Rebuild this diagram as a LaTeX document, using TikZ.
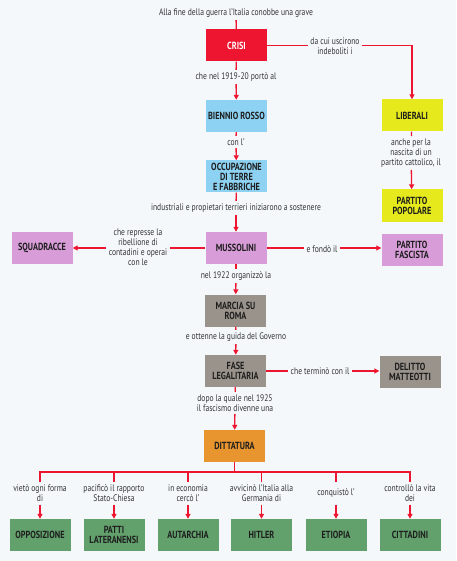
\documentclass[tikz,border=0pt]{standalone}
\usepackage{fontspec}
\setmainfont{PT Sans}[FakeStretch=0.8]
\usetikzlibrary{arrows.meta}
\definecolor{bg}{HTML}{F4F8FA}
\definecolor{lred}{HTML}{EE1530}
\definecolor{cred}{HTML}{EE1530}
\definecolor{cblue}{HTML}{8DD2F3}
\definecolor{cyel}{HTML}{E6EA1C}
\definecolor{cpur}{HTML}{D89DD8}
\definecolor{cgray}{HTML}{9A938B}
\definecolor{corange}{HTML}{E8952F}
\definecolor{cgreen}{HTML}{62A06C}
\definecolor{boxtext}{HTML}{1E1E1E}
\definecolor{lbltext}{HTML}{333333}
\tikzset{
  box/.style={minimum width=61pt, minimum height=32pt, inner sep=1pt, align=center,
    font=\fontsize{10.3}{10}\selectfont\bfseries, text=boxtext},
  lbl/.style={align=center, font=\fontsize{9.5}{10}\selectfont, text=lbltext, inner sep=2.5pt},
  blbl/.style={lbl, minimum height=22pt},
  conn/.style={draw=lred, line width=1.3pt},
  arr/.style={conn, -{Triangle[length=5pt,width=5pt]}},
}
\begin{document}
\begin{tikzpicture}[x=1pt,y=-1pt]
\fill[bg] (0,0) rectangle (456,561);
\useasboundingbox (0,0) rectangle (456,561);
% main column
\node[lbl] (top) at (236,13) {Alla fine della guerra l’Italia conobbe una grave};
\node[box, fill=cred, text=white] (crisi) at (236.5,45.5) {CRISI};
\node[lbl] (l1) at (236,77) {che nel 1919-20 portò al};
\node[box, fill=cblue] (biennio) at (236.5,116) {BIENNIO ROSSO};
\node[lbl] (l2) at (236,142) {con l’};
\node[box, fill=cblue] (occup) at (236.5,176.5) {OCCUPAZIONE\\DI TERRE\\E FABBRICHE};
\node[lbl] (l3) at (236,208) {industriali e propietari terrieri iniziarono a sostenere};
\node[box, fill=cpur] (musso) at (236,248) {MUSSOLINI};
\node[lbl] (l4) at (236,276) {nel 1922 organizzò la};
\node[box, fill=cgray] (marcia) at (235.5,310.5) {MARCIA SU\\ROMA};
\node[lbl] (l5) at (236,337) {e ottenne la guida del Governo};
\node[box, fill=cgray] (fase) at (235.5,371) {FASE\\LEGALITARIA};
\node[lbl] (l6) at (235,403) {dopo la quale nel 1925\\il fascismo divenne una};
\node[box, fill=corange] (ditt) at (234.5,446) {DITTATURA};
% right column
\node[lbl] (lr1) at (335,46.5) {da cui uscirono\\indeboliti i};
\node[box, fill=cyel] (liberali) at (412,115.5) {LIBERALI};
\node[lbl] (lr2) at (411,153) {anche per la\\nascita di un\\partito cattolico, il};
\node[box, fill=cyel] (popolare) at (412,205.5) {PARTITO\\POPOLARE};
\node[lbl] (lr3) at (322,249) {e fondò il};
\node[box, fill=cpur] (fascista) at (412,250) {PARTITO\\FASCISTA};
\node[lbl] (lr4) at (320,371) {che terminò con il};
\node[box, fill=cgray] (delitto) at (410,372) {DELITTO\\MATTEOTTI};
% left
\node[lbl] (ll1) at (138,247) {che represse la\\ribellione di\\contadini e operai\\con le};
\node[box, fill=cpur] (squad) at (42,247.5) {SQUADRACCE};
% connectors main
\draw[conn] (top) -- (crisi);
\draw[conn] (crisi) -- (l1);
\draw[arr] (l1) -- (biennio);
\draw[conn] (biennio) -- (l2);
\draw[arr] (l2) -- (occup);
\draw[conn] (occup) -- (l3);
\draw[arr] (l3) -- (musso);
\draw[conn] (musso) -- (l4);
\draw[arr] (l4) -- (marcia);
\draw[conn] (marcia) -- (l5);
\draw[arr] (l5) -- (fase);
\draw[conn] (fase) -- (l6);
\draw[arr] (l6) -- (ditt);
% side connectors
\draw[conn] (crisi.east) -- (crisi.east -| lr1.west);
\draw[arr] (lr1.east |- crisi.east) -| (liberali.north);
\draw[conn] (liberali) -- (lr2);
\draw[arr] (lr2) -- (popolare);
\draw[conn] (musso.east) -- (musso.east -| lr3.west);
\draw[arr] (musso.east -| lr3.east) -- (fascista.west |- musso.east);
\draw[conn] (musso.west) -- (musso.west -| ll1.east);
\draw[arr] (musso.west -| ll1.west) -- (squad.east |- musso.west);
\draw[conn] (fase.east) -- (fase.east -| lr4.west);
\draw[arr] (fase.east -| lr4.east) -- (delitto.west |- fase.east);
% bottom row
\coordinate (bus) at (234.5,472);
\foreach \n/\x/\t/\b in {a/40/{vietò ogni forma\\di}/{OPPOSIZIONE},
  b/114/{pacificò il rapporto\\Stato-Chiesa}/{PATTI\\LATERANENSI},
  c/188/{in economia\\cercò l’}/{AUTARCHIA},
  d/261.5/{avvicinò l’Italia alla\\Germania di}/{HITLER},
  e/336/{conquistò l’}/{ETIOPIA},
  f/410/{controllò la vita\\dei}/{CITTADINI}}{
  \node[blbl] (bl\n) at (\x,493.5) {\t};
  \node[box, fill=cgreen] (bb\n) at (\x,535) {\b};
  \draw[conn] (bus) -| (bl\n.north);
  \draw[arr] (bl\n.south) -- (bb\n.north);
}
\draw[conn] (ditt.south) -- (bus);
\end{tikzpicture}
\end{document}
